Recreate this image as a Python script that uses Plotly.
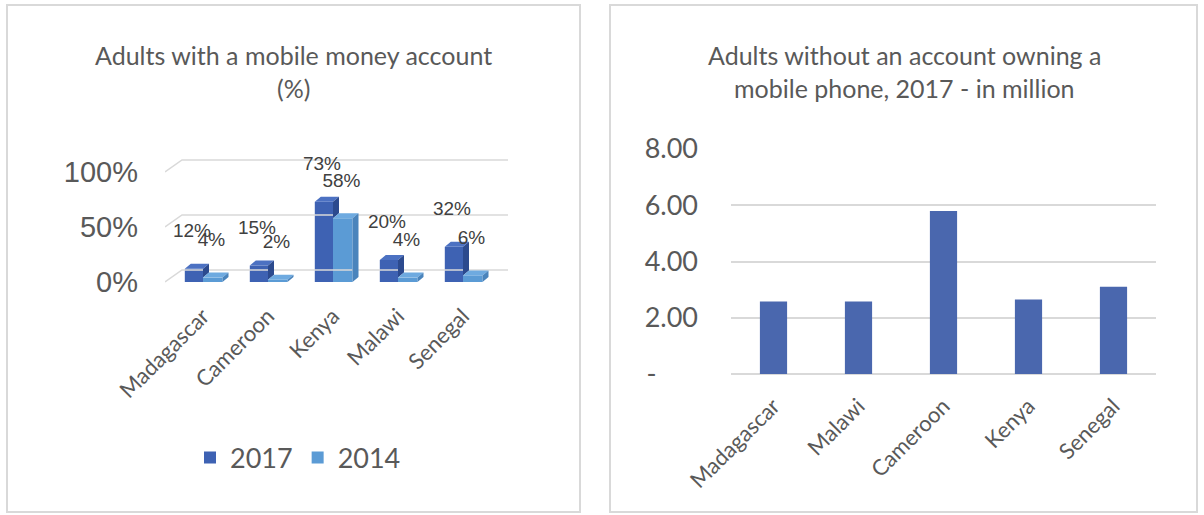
import plotly.graph_objects as go

# ---- Left panel: adults with a mobile money account (%) ----
mm_countries = ["Madagascar", "Cameroon", "Kenya", "Malawi", "Senegal"]
mm_2017 = [12, 15, 73, 20, 32]
mm_2014 = [4, 2, 58, 4, 6]
pct_ticks = [0, 50, 100]
pct_tick_labels = ["0%", "50%", "100%"]

# ---- Right panel: adults without an account owning a mobile phone (millions) ----
phone_countries = ["Madagascar", "Malawi", "Cameroon", "Kenya", "Senegal"]
phone_millions = [2.58, 2.58, 5.80, 2.65, 3.10]
mil_ticks = [0, 2, 4, 6, 8]
mil_tick_labels = ["-" + "\u00a0" * 6, "2.00", "4.00", "6.00", "8.00"]

W, H = 1204, 515
GRAY_TXT = "#595959"
DARK_TXT = "#404040"
GRID = "#D9D9D9"
CALIBRI = "Lato, Carlito, Calibri, sans-serif"
ARIAL = "Liberation Sans, Arial, sans-serif"


def fx(px):
    return px / W


def fy(py):
    return 1 - py / H


# pixel geometry of the pseudo-3D left plot
L_LEFT, L_RIGHT = 165, 508
L_TOP, L_BOTTOM = 150, 292
CAT_STEP = 65.0           # px between categories
CAT0 = 203.0              # px of first category centre
ZERO_PX = 282.0           # px of 0% on the front plane
PX_PER_PCT = 1.1

xr_left = [(L_LEFT - CAT0) / CAT_STEP, (L_RIGHT - CAT0) / CAT_STEP]
yr_left = [(ZERO_PX - L_BOTTOM) / PX_PER_PCT, (ZERO_PX - L_TOP) / PX_PER_PCT]

BAR_DX = 6 / CAT_STEP     # depth of a column, x units
BAR_DY = 5 / PX_PER_PCT   # depth of a column, y units
GRID_DX = 17 / CAT_STEP   # depth of the chart floor/walls
GRID_DY = 12 / PX_PER_PCT
W17, W14 = 0.28, 0.30

C17_FRONT, C17_TOP, C17_SIDE = "#3E62B3", "#4C71C2", "#2C4A8E"
C14_FRONT, C14_TOP, C14_SIDE = "#5B9BD5", "#6EAAE0", "#4A84BC"

fig = go.Figure()

# receding gridlines (front edge slanting back to the wall)
for v in pct_ticks:
    fig.add_trace(go.Scatter(
        x=[xr_left[0], xr_left[0] + GRID_DX, xr_left[1]],
        y=[v, v + GRID_DY, v + GRID_DY],
        mode="lines", line=dict(color=GRID, width=1.5),
        hoverinfo="skip", showlegend=False, xaxis="x", yaxis="y"))

idx = list(range(len(mm_countries)))

fig.add_trace(go.Bar(
    x=idx, y=mm_2017, width=W17, offset=-W17, name="2017",
    marker=dict(color=C17_FRONT, line=dict(width=0)), xaxis="x", yaxis="y"))
fig.add_trace(go.Bar(
    x=idx, y=mm_2014, width=W14, offset=0, name="2014",
    marker=dict(color=C14_FRONT, line=dict(width=0)), xaxis="x", yaxis="y"))


def poly_trace(polys, color):
    xs, ys = [], []
    for p in polys:
        for (a, b) in p:
            xs.append(a)
            ys.append(b)
        xs.append(p[0][0])
        ys.append(p[0][1])
        xs.append(None)
        ys.append(None)
    return go.Scatter(x=xs, y=ys, mode="lines", fill="toself", fillcolor=color,
                      line=dict(width=0, color=color), hoverinfo="skip",
                      showlegend=False, xaxis="x", yaxis="y")


top17, side17, top14, side14 = [], [], [], []
for i, v17, v14 in zip(idx, mm_2017, mm_2014):
    x0, x1 = i - W17, i
    top17.append([(x0, v17), (x0 + BAR_DX, v17 + BAR_DY), (x1 + BAR_DX, v17 + BAR_DY), (x1, v17)])
    # only the part of the 2017 side face rising above the neighbouring 2014 column
    if v17 > v14:
        side17.append([(x1, v14), (x1, v17), (x1 + BAR_DX, v17 + BAR_DY), (x1 + BAR_DX, v14 + BAR_DY)])
    y0, y1 = i, i + W14
    top14.append([(y0, v14), (y0 + BAR_DX, v14 + BAR_DY), (y1 + BAR_DX, v14 + BAR_DY), (y1, v14)])
    side14.append([(y1, 0), (y1, v14), (y1 + BAR_DX, v14 + BAR_DY), (y1 + BAR_DX, BAR_DY)])

fig.add_trace(poly_trace(top17, C17_TOP))
fig.add_trace(poly_trace(side17, C17_SIDE))
fig.add_trace(poly_trace(top14, C14_TOP))
fig.add_trace(poly_trace(side14, C14_SIDE))

# data labels
LABEL_LIFT = 33
fig.add_trace(go.Scatter(
    x=[i - 0.17 for i in idx], y=[v + LABEL_LIFT for v in mm_2017],
    text=[f"{v}%" for v in mm_2017], mode="text",
    textfont=dict(family=ARIAL, size=19, color=DARK_TXT),
    hoverinfo="skip", showlegend=False, xaxis="x", yaxis="y"))
fig.add_trace(go.Scatter(
    x=[i + 0.13 for i in idx], y=[v + LABEL_LIFT for v in mm_2014],
    text=[f"{v}%" for v in mm_2014], mode="text",
    textfont=dict(family=ARIAL, size=19, color=DARK_TXT),
    hoverinfo="skip", showlegend=False, xaxis="x", yaxis="y"))

# ---- right panel bars ----
fig.add_trace(go.Bar(
    x=phone_countries, y=phone_millions, marker=dict(color="#4A67AE", line=dict(width=0)),
    showlegend=False, xaxis="x2", yaxis="y2"))

# ---- layout ----
R_LEFT, R_RIGHT = 731, 1156
R_TOP, R_BOTTOM = 149, 374

fig.update_layout(
    width=W, height=H,
    margin=dict(l=0, r=0, t=0, b=0, autoexpand=False),
    paper_bgcolor="white", plot_bgcolor="rgba(0,0,0,0)",
    barmode="overlay", bargap=0.68,
    showlegend=True,
    legend=dict(orientation="h", x=fx(190), y=fy(458), xanchor="left", yanchor="middle",
                font=dict(family=CALIBRI, size=27, color=GRAY_TXT),
                itemwidth=30, traceorder="normal", bgcolor="rgba(0,0,0,0)"),
    xaxis=dict(domain=[fx(L_LEFT), fx(L_RIGHT)], range=xr_left,
               tickvals=idx, ticktext=mm_countries, tickangle=-45,
               tickfont=dict(family=CALIBRI, size=22, color=GRAY_TXT),
               showgrid=False, zeroline=False, showline=False, ticks="",
               ticklabelstandoff=6, fixedrange=True, automargin=False),
    yaxis=dict(domain=[fy(L_BOTTOM), fy(L_TOP)], range=yr_left,
               tickvals=pct_ticks, ticktext=pct_tick_labels,
               tickfont=dict(family=ARIAL, size=29, color=GRAY_TXT),
               showgrid=False, zeroline=False, showline=False, ticks="",
               ticklabelstandoff=26, fixedrange=True, automargin=False),
    xaxis2=dict(domain=[fx(R_LEFT), fx(R_RIGHT)], anchor="y2",
                tickangle=-45, tickfont=dict(family=CALIBRI, size=22, color=GRAY_TXT),
                showgrid=False, zeroline=False, showline=False, ticks="",
                ticklabelstandoff=14, fixedrange=True, automargin=False),
    yaxis2=dict(domain=[fy(R_BOTTOM), fy(R_TOP)], anchor="x2", range=[0, 8],
                tickvals=mil_ticks, ticktext=mil_tick_labels,
                tickfont=dict(family=CALIBRI, size=27, color=GRAY_TXT),
                showgrid=True, gridcolor=GRID, gridwidth=2,
                zeroline=True, zerolinecolor=GRID, zerolinewidth=2,
                showline=False, ticks="", ticklabelstandoff=32, fixedrange=True,
                automargin=False),
    shapes=[
        dict(type="rect", xref="paper", yref="paper",
             x0=fx(7), x1=fx(580), y0=fy(512), y1=fy(5),
             line=dict(color=GRID, width=2), fillcolor="rgba(0,0,0,0)", layer="below"),
        dict(type="rect", xref="paper", yref="paper",
             x0=fx(610), x1=fx(1197), y0=fy(512), y1=fy(5),
             line=dict(color=GRID, width=2), fillcolor="rgba(0,0,0,0)", layer="below"),
    ],
    annotations=[
        dict(text="Adults with a mobile money account", x=fx(293), y=fy(55),
             xref="paper", yref="paper", showarrow=False, xanchor="center", yanchor="middle",
             font=dict(family=CALIBRI, size=25, color=GRAY_TXT)),
        dict(text="(%)", x=fx(293), y=fy(88),
             xref="paper", yref="paper", showarrow=False, xanchor="center", yanchor="middle",
             font=dict(family=CALIBRI, size=25, color=GRAY_TXT)),
        dict(text="Adults without an account owning a", x=fx(904), y=fy(55),
             xref="paper", yref="paper", showarrow=False, xanchor="center", yanchor="middle",
             font=dict(family=CALIBRI, size=25, color=GRAY_TXT)),
        dict(text="mobile phone, 2017 - in million", x=fx(904), y=fy(88),
             xref="paper", yref="paper", showarrow=False, xanchor="center", yanchor="middle",
             font=dict(family=CALIBRI, size=25, color=GRAY_TXT)),
    ],
)

fig.write_html("out.html")
